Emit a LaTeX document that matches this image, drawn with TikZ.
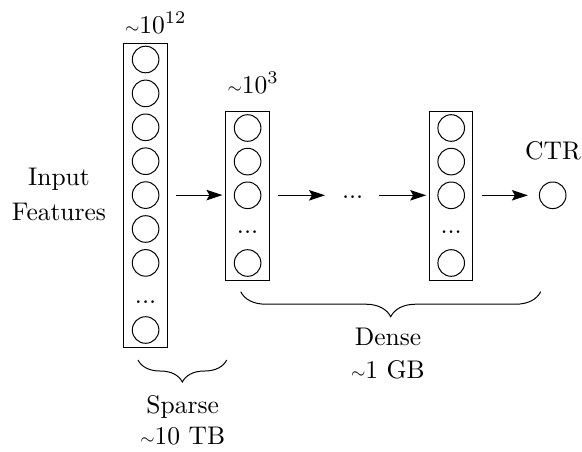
\documentclass[tikz,border=0pt]{standalone}
\usepackage{fontspec}
\usetikzlibrary{arrows.meta,decorations.pathreplacing}
\newcommand\mytld{\scalebox{0.72}{$\sim$}}
\newcommand\tx[1]{\scalebox{2.55}{#1}}
\begin{document}
\begin{tikzpicture}[x=1pt,y=-1pt,
  every node/.style={font=\fontsize{10}{12}\selectfont},
  neuron/.style={draw,circle,line width=1pt,minimum size=26.6pt,inner sep=0pt},
  colbox/.style={draw,rectangle,line width=1pt,inner sep=0pt},
  arr/.style={line width=1pt,-{Stealth[length=16pt,width=10.5pt,inset=3pt]}},
  brc/.style={line width=1pt,decorate,decoration={brace,amplitude=#1}},
  lbl/.style={anchor=base,inner sep=0pt}]
\useasboundingbox (0,0) rectangle (582,451);
% column 1
\node[colbox,minimum width=43.8pt,minimum height=304.5pt] (col1) at (145.4,195.25) {};
\foreach \i/\y in {1/59.5,2/93.4,3/127.3,4/161.2,5/195.1,6/229,7/262.9,8/330}
  \node[neuron] (a\i) at (145.6,\y) {};
\node[lbl] (adots) at (145.6,303) {\tx{...}};
% column 2
\node[colbox,minimum width=43.3pt,minimum height=168.8pt] (col2) at (247.4,196.1) {};
\foreach \i/\y in {1/128,2/161.6,3/195.3,4/263}
  \node[neuron] (b\i) at (247.6,\y) {};
\node[lbl] (bdots) at (247.6,233) {\tx{...}};
% column 3
\node[colbox,minimum width=43.4pt,minimum height=168.8pt] (col3) at (451,196.1) {};
\foreach \i/\y in {1/128,2/161.6,3/195.3,4/263}
  \node[neuron] (c\i) at (451.2,\y) {};
\node[lbl] (cdots) at (451.2,233) {\tx{...}};
% output
\node[neuron] (out) at (552.7,195.3) {};
\node[lbl] (ctr) at (553,159) {\tx{CTR}};
% middle dots
\node[lbl] (mdots) at (352.7,198) {\tx{...}};
\coordinate (m1) at (325,195.3);
\coordinate (m2) at (379,195.3);
% arrows
\draw[arr] ([xshift=8.4pt]col1.east |- a5) -- ([xshift=-2.8pt]col2.west |- a5);
\draw[arr] ([xshift=8.7pt]col2.east |- b3) -- (m1);
\draw[arr] (m2) -- ([xshift=-2.6pt]col3.west |- c3);
\draw[arr] ([xshift=8.3pt]col3.east |- c3) -- ([xshift=-11pt]out.west);
% labels
\node[lbl,anchor=base west] (l12) at (125,33) {\tx{\mytld$10^{12}$}};
\node[lbl,anchor=base west] (l3) at (227.5,93) {\tx{\mytld$10^{3}$}};
\node[lbl] (in1) at (59,185.7) {\tx{Input}};
\node[lbl] (in2) at (59,220) {\tx{Features}};
% braces
\coordinate (sR) at (226.7,360);
\coordinate (sL) at (138,360);
\draw[brc=22pt] (sR) -- (sL);
\node[lbl] (sp1) at (182.7,413.3) {\tx{Sparse}};
\node[lbl] (sp2) at (182.7,444.5) {\tx{\mytld10 TB}};
\coordinate (dR) at (540.7,291.7);
\coordinate (dL) at (240.7,291.7);
\draw[brc=25pt] (dR) -- (dL);
\node[lbl] (de1) at (388,345) {\tx{Dense}};
\node[lbl] (de2) at (388,378) {\tx{\mytld1 GB}};
\end{tikzpicture}
\end{document}
